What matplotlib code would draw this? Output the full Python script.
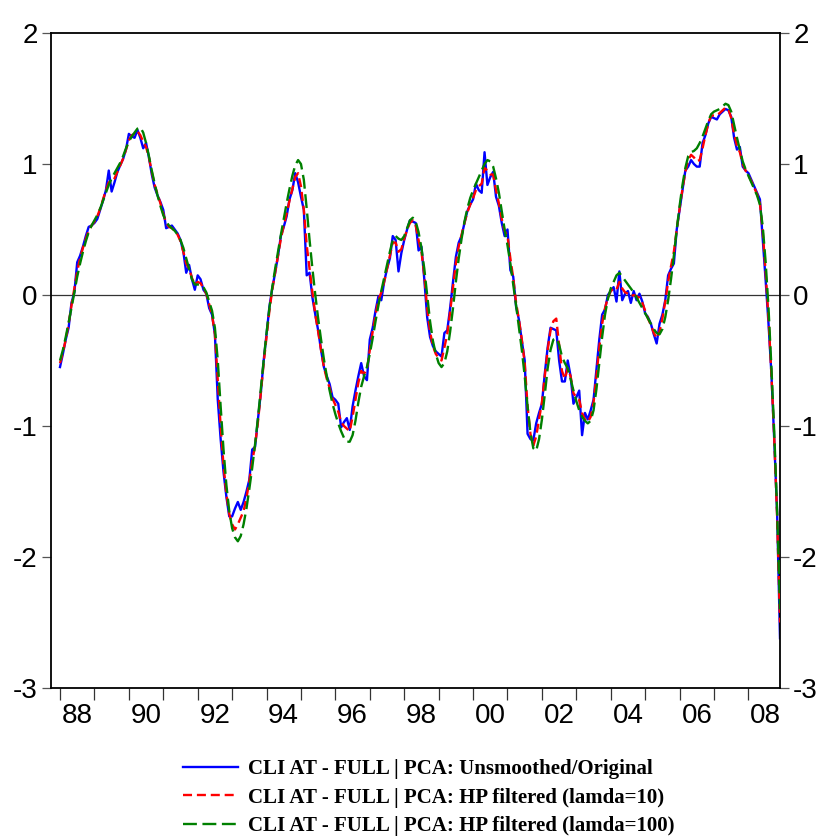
import matplotlib
matplotlib.use("Agg")
import matplotlib.pyplot as plt
import numpy as np

# Monthly data, Jan 1988 - Dec 2008
start_year = 1988
unsmoothed = [
    -0.55, -0.45, -0.34, -0.25, -0.06, 0.02, 0.25, 0.30, 0.37, 0.45, 0.52, 0.53,
    0.55, 0.58, 0.65, 0.72, 0.80, 0.95, 0.79, 0.86, 0.94, 0.99, 1.04, 1.11,
    1.23, 1.21, 1.20, 1.26, 1.20, 1.12, 1.16, 1.05, 0.92, 0.82, 0.76, 0.71,
    0.65, 0.51, 0.52, 0.53, 0.50, 0.47, 0.42, 0.33, 0.17, 0.23, 0.12, 0.04,
    0.15, 0.12, 0.04, 0.01, -0.10, -0.15, -0.30, -0.80, -1.10, -1.35, -1.54, -1.69,
    -1.69, -1.63, -1.58, -1.64, -1.58, -1.50, -1.41, -1.18, -1.16, -0.95, -0.75, -0.50,
    -0.30, -0.09, 0.05, 0.17, 0.30, 0.45, 0.52, 0.60, 0.73, 0.80, 0.93, 0.86,
    0.75, 0.65, 0.15, 0.17, -0.02, -0.15, -0.27, -0.42, -0.55, -0.62, -0.68, -0.78,
    -0.80, -0.83, -1.01, -0.97, -0.94, -1.03, -0.85, -0.73, -0.62, -0.52, -0.62, -0.65,
    -0.34, -0.25, -0.12, -0.01, -0.04, 0.10, 0.20, 0.28, 0.45, 0.42, 0.18, 0.32,
    0.42, 0.50, 0.57, 0.56, 0.55, 0.34, 0.37, 0.12, -0.17, -0.32, -0.39, -0.43,
    -0.45, -0.47, -0.29, -0.27, -0.10, 0.10, 0.29, 0.40, 0.45, 0.55, 0.64, 0.69,
    0.73, 0.85, 0.80, 0.78, 1.09, 0.84, 0.90, 0.94, 0.75, 0.68, 0.55, 0.45,
    0.50, 0.19, 0.14, -0.09, -0.19, -0.35, -0.50, -1.06, -1.10, -1.11, -0.98, -0.90,
    -0.83, -0.60, -0.40, -0.25, -0.26, -0.27, -0.50, -0.66, -0.66, -0.50, -0.62, -0.83,
    -0.78, -0.73, -1.07, -0.90, -0.95, -0.88, -0.80, -0.57, -0.34, -0.15, -0.11, 0.00,
    0.03, 0.06, -0.05, 0.18, -0.04, 0.01, 0.03, -0.06, 0.03, -0.04, 0.01, -0.05,
    -0.14, -0.17, -0.22, -0.30, -0.37, -0.22, -0.15, -0.04, 0.15, 0.20, 0.24, 0.50,
    0.65, 0.80, 0.95, 0.98, 1.03, 1.00, 0.98, 0.98, 1.16, 1.22, 1.31, 1.36,
    1.35, 1.34, 1.38, 1.40, 1.42, 1.41, 1.36, 1.20, 1.11, 1.13, 0.98, 0.95,
    0.93, 0.88, 0.83, 0.78, 0.73, 0.42, 0.11, -0.22, -0.60, -1.11, -1.67, -2.62,
]
hp10 = [
    -0.52, -0.44, -0.34, -0.22, -0.08, 0.05, 0.18, 0.28, 0.36, 0.43, 0.49, 0.53,
    0.56, 0.60, 0.66, 0.73, 0.80, 0.86, 0.87, 0.89, 0.94, 0.99, 1.04, 1.11,
    1.18, 1.22, 1.23, 1.25, 1.22, 1.17, 1.13, 1.05, 0.94, 0.84, 0.77, 0.70,
    0.62, 0.55, 0.52, 0.51, 0.49, 0.46, 0.41, 0.33, 0.24, 0.20, 0.13, 0.08,
    0.10, 0.09, 0.05, 0.01, -0.07, -0.15, -0.30, -0.65, -1.00, -1.30, -1.52, -1.67,
    -1.75, -1.79, -1.75, -1.70, -1.65, -1.55, -1.42, -1.27, -1.15, -0.97, -0.75, -0.52,
    -0.32, -0.12, 0.04, 0.17, 0.30, 0.43, 0.53, 0.62, 0.72, 0.81, 0.90, 0.93,
    0.83, 0.65, 0.38, 0.20, 0.02, -0.15, -0.28, -0.42, -0.55, -0.64, -0.71, -0.79,
    -0.84, -0.89, -0.97, -1.00, -1.02, -1.04, -0.93, -0.80, -0.67, -0.58, -0.60, -0.57,
    -0.42, -0.28, -0.15, -0.04, 0.02, 0.10, 0.20, 0.30, 0.40, 0.40, 0.33, 0.35,
    0.43, 0.50, 0.55, 0.57, 0.53, 0.42, 0.33, 0.15, -0.10, -0.28, -0.39, -0.45,
    -0.48, -0.50, -0.40, -0.30, -0.13, 0.06, 0.24, 0.37, 0.46, 0.55, 0.63, 0.69,
    0.74, 0.80, 0.83, 0.85, 0.97, 0.95, 0.92, 0.92, 0.80, 0.70, 0.58, 0.49,
    0.45, 0.28, 0.13, -0.06, -0.19, -0.34, -0.52, -0.85, -1.06, -1.15, -1.08, -0.95,
    -0.82, -0.62, -0.42, -0.27, -0.20, -0.18, -0.38, -0.58, -0.64, -0.56, -0.62, -0.75,
    -0.78, -0.80, -0.90, -0.95, -0.97, -0.93, -0.82, -0.62, -0.40, -0.22, -0.10, -0.02,
    0.03, 0.05, 0.04, 0.10, 0.05, 0.02, 0.01, -0.01, 0.00, -0.01, -0.02, -0.06,
    -0.12, -0.18, -0.23, -0.29, -0.33, -0.28, -0.18, -0.05, 0.10, 0.22, 0.33, 0.50,
    0.66, 0.81, 0.94, 1.03, 1.07, 1.05, 1.02, 1.03, 1.12, 1.22, 1.31, 1.37,
    1.37, 1.37, 1.39, 1.41, 1.43, 1.42, 1.35, 1.23, 1.14, 1.09, 1.00, 0.95,
    0.91, 0.87, 0.82, 0.77, 0.70, 0.48, 0.17, -0.18, -0.60, -1.10, -1.70, -2.50,
]
hp100 = [
    -0.50, -0.42, -0.32, -0.21, -0.10, 0.02, 0.14, 0.24, 0.33, 0.41, 0.48, 0.53,
    0.57, 0.61, 0.66, 0.72, 0.78, 0.84, 0.89, 0.93, 0.97, 1.01, 1.06, 1.12,
    1.17, 1.21, 1.24, 1.27, 1.28, 1.24, 1.16, 1.06, 0.95, 0.85, 0.76, 0.68,
    0.61, 0.56, 0.53, 0.51, 0.49, 0.46, 0.42, 0.36, 0.28, 0.20, 0.12, 0.08,
    0.08, 0.08, 0.06, 0.02, -0.05, -0.12, -0.25, -0.50, -0.85, -1.18, -1.45, -1.65,
    -1.78, -1.85, -1.88, -1.84, -1.75, -1.63, -1.48, -1.32, -1.14, -0.94, -0.72, -0.50,
    -0.29, -0.10, 0.06, 0.20, 0.33, 0.46, 0.58, 0.70, 0.81, 0.91, 0.99, 1.03,
    1.00, 0.88, 0.66, 0.42, 0.20, 0.00, -0.18, -0.34, -0.49, -0.62, -0.73, -0.83,
    -0.91, -0.98, -1.04, -1.09, -1.12, -1.12, -1.07, -0.96, -0.82, -0.70, -0.62, -0.55,
    -0.45, -0.33, -0.20, -0.08, 0.03, 0.13, 0.23, 0.33, 0.42, 0.45, 0.43, 0.42,
    0.45, 0.51, 0.57, 0.59, 0.56, 0.48, 0.36, 0.20, 0.00, -0.20, -0.35, -0.45,
    -0.52, -0.55, -0.52, -0.43, -0.28, -0.10, 0.10, 0.28, 0.43, 0.56, 0.66, 0.74,
    0.80, 0.85, 0.90, 0.95, 1.00, 1.03, 1.02, 0.98, 0.89, 0.78, 0.64, 0.50,
    0.38, 0.24, 0.08, -0.08, -0.25, -0.42, -0.62, -0.85, -1.05, -1.17, -1.19, -1.10,
    -0.95, -0.76, -0.56, -0.42, -0.34, -0.33, -0.38, -0.47, -0.52, -0.56, -0.64, -0.73,
    -0.81, -0.88, -0.93, -0.96, -0.98, -0.96, -0.88, -0.72, -0.52, -0.32, -0.15, -0.03,
    0.05, 0.10, 0.15, 0.17, 0.14, 0.11, 0.08, 0.05, 0.02, -0.02, -0.06, -0.10,
    -0.14, -0.18, -0.22, -0.26, -0.29, -0.30, -0.26, -0.17, -0.04, 0.12, 0.30, 0.50,
    0.68, 0.84, 0.97, 1.06, 1.09, 1.10, 1.12, 1.16, 1.21, 1.27, 1.33, 1.38,
    1.40, 1.41, 1.42, 1.44, 1.46, 1.45, 1.40, 1.30, 1.20, 1.11, 1.02, 0.96,
    0.91, 0.86, 0.81, 0.76, 0.69, 0.52, 0.25, -0.10, -0.55, -1.05, -1.65, -2.40,
]
labels = [
    "CLI AT - FULL | PCA: Unsmoothed/Original",
    "CLI AT - FULL | PCA: HP filtered (lamda=10)",
    "CLI AT - FULL | PCA: HP filtered (lamda=100)",
]
year_labels = ["88", "90", "92", "94", "96", "98", "00", "02", "04", "06", "08"]
y_ticks = [-3, -2, -1, 0, 1, 2]

plt.rcParams['lines.scale_dashes'] = False
t = start_year + np.arange(len(unsmoothed)) / 12.0

fig = plt.figure(figsize=(8.24, 8.39), dpi=100)
ax = fig.add_axes([51/824, 151/839, 729/824, 655/839])

ax.axhline(0, color="#333333", lw=0.9, zorder=1)
ax.plot(t, unsmoothed, color="#0000FF", lw=1.7, label=labels[0], zorder=2)
ax.plot(t, hp10, color="#FF0000", lw=1.7, dashes=[6.5, 3.5], label=labels[1], zorder=3)
ax.plot(t, hp100, color="#008000", lw=1.7, dashes=[10, 4], label=labels[2], zorder=4)

ax.set_xlim(start_year - 9/34.4, t[-1])
ax.set_ylim(-3, 2)

# year ticks (marks) and labels at mid-year of even years
ax.set_xticks(np.arange(1988, 2009))
ax.set_xticklabels([])
ax.set_xticks(np.arange(1988, 2009, 2) + 0.5, minor=True)
ax.set_xticklabels(year_labels, minor=True)
ax.tick_params(axis='x', which='major', direction='out', length=8.5, width=0.9, color="#333333")
ax.tick_params(axis='x', which='minor', length=0, pad=11, labelsize=20)

ax.set_yticks(y_ticks)
ax.set_yticklabels([str(v) for v in y_ticks])
ax.tick_params(axis='y', which='both', direction='out', length=6.5, width=0.9, color="#555555",
               labelsize=20, left=True, right=True, labelleft=True, labelright=True, pad=3)
for lab in ax.get_xticklabels(minor=True) + ax.get_yticklabels():
    lab.set_family(["Liberation Sans", "DejaVu Sans"])
for lab in ax.yaxis.get_ticklabels(which='both'):
    lab.set_family(["Liberation Sans", "DejaVu Sans"])

for s in ax.spines.values():
    s.set_linewidth(1.3)
    s.set_color("black")

fig.legend(loc='upper left', bbox_to_anchor=(183/824, 1 - 759/839), frameon=False,
           prop={'family': ['Liberation Serif', 'DejaVu Serif'], 'weight': 'bold', 'size': 15},
           handlelength=2.65, handletextpad=0.45, labelspacing=0.42, borderpad=0, borderaxespad=0)

fig.savefig("out.png", dpi=100)
